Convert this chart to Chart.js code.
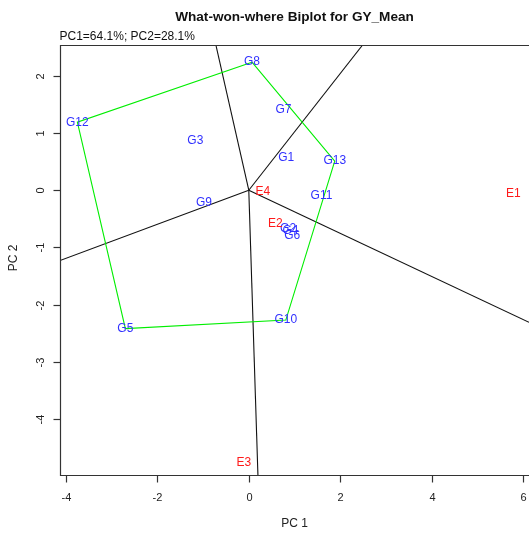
<!DOCTYPE html>
<html>
<head>
<meta charset="utf-8">
<script src="https://cdn.jsdelivr.net/npm/chart.js@4/dist/chart.umd.min.js"></script>
<style>
  html, body { margin: 0; padding: 0; background: #fff; overflow: hidden; }
  #wrap { width: 529px; height: 534px; }
</style>
</head>
<body>
<div id="wrap"><canvas id="c" width="529" height="534"></canvas></div>
<script>
// Genotype scores on the first two principal components
const genotypes = ['G1','G2','G3','G4','G5','G6','G7','G8','G9','G10','G11','G12','G13'];
const genoPC1 = [0.82, 0.86, -1.17, 0.91, -2.70, 0.95, 0.76, 0.07, -0.98, 0.81, 1.59, -3.75, 1.88];
const genoPC2 = [0.57, -0.68, 0.87, -0.70, -2.42, -0.79, 1.40, 2.24, -0.22, -2.27, -0.09, 1.19, 0.51];

// Environment scores
const environments = ['E1','E2','E3','E4'];
const envPC1 = [5.79, 0.58, -0.11, 0.31];
const envPC2 = [-0.06, -0.58, -4.76, -0.03];

// Vertex genotypes of the convex hull (in drawing order)
const hullVertices = ['G8','G13','G10','G5','G12'];

// Sector boundary rays from the origin, end points at the plot edge
const rayPC1 = [-0.72, 2.49, 6.13, 0.20, -4.13];
const rayPC2 = [2.54, 2.54, -2.31, -4.98, -1.23];

// Axis ranges and tick labels
const xRange = [-4.13, 6.13];
const yRange = [-4.98, 2.54];
const xTicks = [-4, -2, 0, 2, 4, 6];
const yTicks = [-4, -3, -2, -1, 0, 1, 2];

const titleText = 'What-won-where Biplot for GY_Mean';
const subtitleText = 'PC1=64.1%; PC2=28.1%';
const xTitle = 'PC 1';
const yTitle = 'PC 2';

const FONT = '"Liberation Sans", Arial, Helvetica, sans-serif';

const genoPoints = genotypes.map((g, i) => ({ x: genoPC1[i], y: genoPC2[i] }));
const envPoints = environments.map((e, i) => ({ x: envPC1[i], y: envPC2[i] }));
const hullPoints = hullVertices.concat(hullVertices[0]).map(g => {
  const i = genotypes.indexOf(g);
  return { x: genoPC1[i], y: genoPC2[i] };
});

const datasets = [
  { label: 'genotypes', data: genoPoints, pointRadius: 0, showLine: false },
  { label: 'environments', data: envPoints, pointRadius: 0, showLine: false },
  { label: 'hull', data: hullPoints, showLine: true, borderColor: '#00ee00', borderWidth: 1.1,
    pointRadius: 0, fill: false, tension: 0 }
];
rayPC1.forEach((x, i) => {
  datasets.push({ label: 'ray' + i, data: [{ x: 0, y: 0 }, { x: x, y: rayPC2[i] }],
    showLine: true, borderColor: '#111', borderWidth: 1.1, pointRadius: 0, fill: false });
});

// Frame, ticks, tick labels, titles and point labels
const biplotDecor = {
  id: 'biplotDecor',
  afterDatasetsDraw(chart) {
    const ctx = chart.ctx;
    const ca = chart.chartArea;
    const xs = chart.scales.x, ys = chart.scales.y;
    ctx.save();

    // point labels
    ctx.font = '12px ' + FONT;
    ctx.textAlign = 'center';
    ctx.textBaseline = 'middle';
    const gm = chart.getDatasetMeta(0);
    gm.data.forEach((el, i) => {
      ctx.fillStyle = '#3030ff';
      ctx.fillText(genotypes[i], el.x, el.y);
    });
    const em = chart.getDatasetMeta(1);
    em.data.forEach((el, i) => {
      ctx.fillStyle = '#ff1a1a';
      ctx.fillText(environments[i], el.x, el.y);
    });

    // frame (left, top, bottom)
    ctx.strokeStyle = '#333';
    ctx.lineWidth = 1.2;
    ctx.beginPath();
    const L = Math.round(ca.left) + 0.5, T = Math.round(ca.top) + 0.5, B = Math.round(ca.bottom) + 0.5;
    ctx.moveTo(ca.right + 2, T);
    ctx.lineTo(L, T);
    ctx.lineTo(L, B);
    ctx.lineTo(ca.right + 2, B);
    ctx.stroke();

    // x axis ticks
    ctx.fillStyle = '#222';
    ctx.font = '11px ' + FONT;
    ctx.textAlign = 'center';
    ctx.textBaseline = 'middle';
    xTicks.forEach(v => {
      const px = Math.round(xs.getPixelForValue(v)) + 0.5;
      ctx.beginPath();
      ctx.moveTo(px, B);
      ctx.lineTo(px, B + 7);
      ctx.stroke();
      ctx.fillText(String(v), px, B + 22);
    });

    // y axis ticks (labels read upwards)
    yTicks.forEach(v => {
      const py = Math.round(ys.getPixelForValue(v)) + 0.5;
      ctx.beginPath();
      ctx.moveTo(L, py);
      ctx.lineTo(L - 7, py);
      ctx.stroke();
      ctx.save();
      ctx.translate(L - 20, py);
      ctx.rotate(-Math.PI / 2);
      ctx.fillText(String(v), 0, 0);
      ctx.restore();
    });

    // axis titles
    ctx.font = '12px ' + FONT;
    ctx.fillText(xTitle, (ca.left + ca.right) / 2, 524);
    ctx.save();
    ctx.translate(14, (ca.top + ca.bottom) / 2 - 2);
    ctx.rotate(-Math.PI / 2);
    ctx.fillText(yTitle, 0, 0);
    ctx.restore();

    // main title and subtitle
    ctx.font = 'bold 13.6px ' + FONT;
    ctx.fillStyle = '#111';
    ctx.fillText(titleText, (ca.left + ca.right) / 2, 17.5);
    ctx.font = '12px ' + FONT;
    ctx.textAlign = 'left';
    ctx.fillText(subtitleText, ca.left - 0.5, 37);

    ctx.restore();
  }
};

new Chart(document.getElementById('c'), {
  type: 'scatter',
  data: { datasets },
  options: {
    responsive: false,
    animation: false,
    devicePixelRatio: 1,
    layout: { padding: { left: 60, top: 45, right: 0, bottom: 59 } },
    plugins: { legend: { display: false }, tooltip: { enabled: false }, title: { display: false } },
    scales: {
      x: { type: 'linear', display: false, min: xRange[0], max: xRange[1],
           afterBuildTicks: s => { s.ticks = xTicks.map(v => ({ value: v })); } },
      y: { type: 'linear', display: false, min: yRange[0], max: yRange[1],
           afterBuildTicks: s => { s.ticks = yTicks.map(v => ({ value: v })); } }
    }
  },
  plugins: [biplotDecor]
});
</script>
</body>
</html>
